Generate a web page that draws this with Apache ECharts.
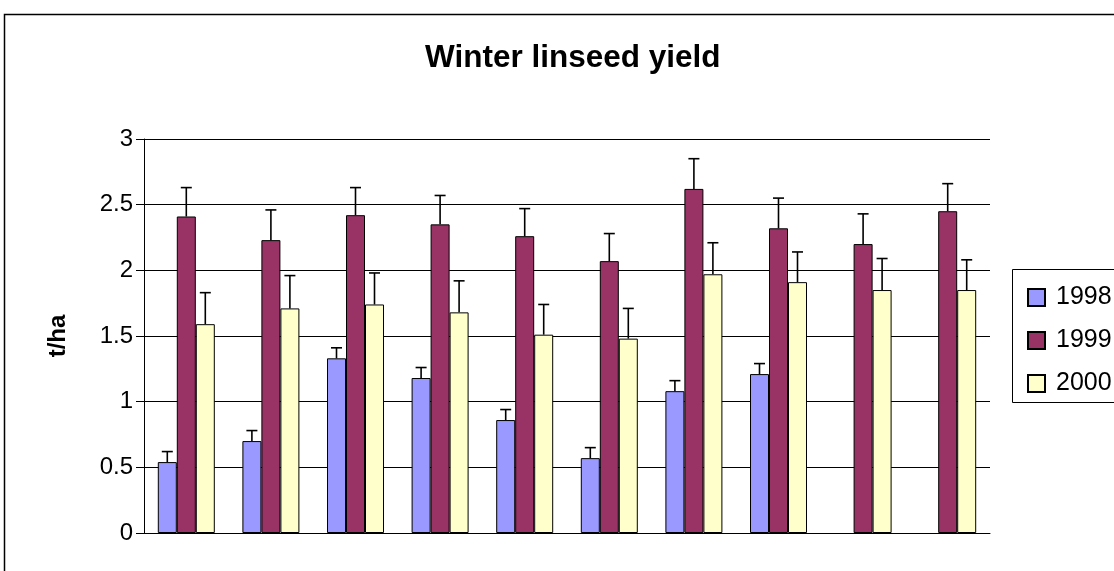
<!DOCTYPE html>
<html>
<head>
<meta charset="utf-8">
<title>Winter linseed yield</title>
<script src="https://cdn.jsdelivr.net/npm/echarts@6/dist/echarts.min.js"></script>
<style>
  html, body { margin: 0; padding: 0; background: #fff; }
  #chart { width: 1114px; height: 571px; }
</style>
</head>
<body>
<div id="chart"></div>
<script>
// data
var categories = ['1', '2', '3', '4', '5', '6', '7', '8', '9', '10']
var years = ['1998', '1999', '2000']
var y1998 = [0.54, 0.70, 1.33, 1.18, 0.86, 0.57, 1.08, 1.21, null, null]
var y1999 = [2.41, 2.23, 2.42, 2.35, 2.26, 2.07, 2.62, 2.32, 2.20, 2.45]
var y2000 = [1.59, 1.71, 1.74, 1.68, 1.51, 1.48, 1.97, 1.91, 1.85, 1.85]
var e1998 = [0.08, 0.08, 0.08, 0.08, 0.08, 0.08, 0.08, 0.08, null, null]
var e1999 = [0.22, 0.23, 0.21, 0.22, 0.21, 0.21, 0.23, 0.23, 0.23, 0.21]
var e2000 = [0.24, 0.25, 0.24, 0.24, 0.23, 0.23, 0.24, 0.23, 0.24, 0.23]

var font = 'Liberation Sans, Arial, sans-serif'
var colors = ['#9999FF', '#993366', '#FFFFCC']
var barWidth = 19
var capHalf = 5.5

var chart = echarts.init(document.getElementById('chart'))

function errData(vals, errs) {
  var out = []
  vals.forEach(function(v, i) {
    if (v != null && errs[i] != null) out.push([i, v, errs[i]])
  })
  return out
}

// slot = -1, 0, 1 -> which bar in the group
function errRender(slot) {
  return function(params, api) {
    var v = api.value(1)
    var e = api.value(2)
    var base = api.coord([api.value(0), v])
    var top = api.coord([api.value(0), v + e])
    var x = base[0] + slot * barWidth
    var st = { stroke: '#000', lineWidth: 1.6 }
    return {
      type: 'group',
      children: [
        { type: 'line', shape: { x1: x, y1: base[1], x2: x, y2: top[1] }, style: st },
        { type: 'line', shape: { x1: x - capHalf, y1: top[1], x2: x + capHalf, y2: top[1] }, style: st }
      ]
    }
  }
}

function barSeries(name, data, color) {
  return {
    name: name,
    type: 'bar',
    data: data,
    barWidth: barWidth,
    barGap: '0%',
    itemStyle: { color: color, borderColor: '#000', borderWidth: 1 },
    emphasis: { disabled: true }
  }
}

function errSeries(slot, vals, errs) {
  return {
    type: 'custom',
    renderItem: errRender(slot),
    data: errData(vals, errs),
    z: 5,
    silent: true
  }
}

chart.setOption({
  animation: false,
  textStyle: { fontFamily: font },
  title: {
    text: 'Winter linseed yield',
    left: 420,
    top: 37,
    textStyle: { fontFamily: font, fontSize: 31.5, fontWeight: 'bold', color: '#000' }
  },
  graphic: [
    {
      type: 'rect',
      shape: { x: 4.5, y: 14.5, width: 1200, height: 700 },
      style: { fill: 'none', stroke: '#000', lineWidth: 1.5 },
      z: -1
    },
    {
      type: 'rect',
      shape: { x: 1012.5, y: 269.5, width: 200, height: 133 },
      style: { fill: '#fff', stroke: '#000', lineWidth: 1 },
      z: -1
    }
  ],
  legend: {
    data: years,
    orient: 'vertical',
    left: 1022,
    top: 280,
    itemWidth: 17,
    itemHeight: 17,
    itemGap: 18,
    icon: 'rect',
    textStyle: { fontFamily: font, fontSize: 25, color: '#000', lineHeight: 25, padding: [0, 0, 0, 6] }
  },
  grid: { left: 144, right: 124, top: 139, bottom: 38 },
  xAxis: {
    type: 'category',
    data: categories,
    axisLine: { lineStyle: { color: '#000', width: 1 } },
    axisTick: { show: false },
    axisLabel: { show: false }
  },
  yAxis: {
    type: 'value',
    min: 0,
    max: 3,
    interval: 0.5,
    name: 't/ha',
    nameLocation: 'middle',
    nameGap: 74,
    nameTextStyle: { fontFamily: font, fontSize: 24, fontWeight: 'bold', color: '#000' },
    axisLine: { show: true, lineStyle: { color: '#000', width: 1 } },
    axisTick: { show: true, length: 8, lineStyle: { color: '#000' } },
    axisLabel: { fontFamily: font, fontSize: 24, color: '#000', margin: 11 },
    splitLine: { lineStyle: { color: '#000', width: 1 } }
  },
  series: [
    barSeries(years[0], y1998, colors[0]),
    barSeries(years[1], y1999, colors[1]),
    barSeries(years[2], y2000, colors[2]),
    errSeries(-1, y1998, e1998),
    errSeries(0, y1999, e1999),
    errSeries(1, y2000, e2000)
  ]
})
</script>
</body>
</html>
